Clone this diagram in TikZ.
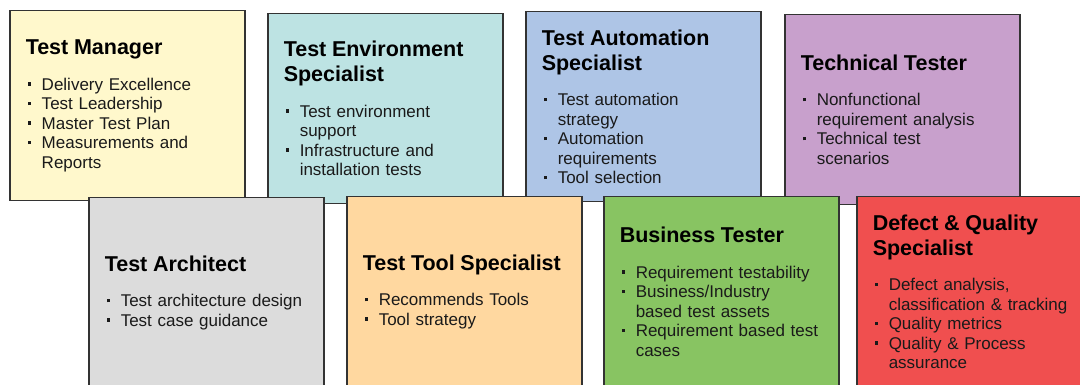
\documentclass[tikz,border=0pt]{standalone}
\usepackage{fontspec}
\setmainfont{Liberation Sans}
\setlength\parindent{0pt}

\definecolor{lineg}{HTML}{333333}
\definecolor{txtg}{HTML}{1A1A1A}
\definecolor{cyellow}{HTML}{FFF8CC}
\definecolor{cteal}{HTML}{BDE3E3}
\definecolor{cblue}{HTML}{AEC5E6}
\definecolor{cviolet}{HTML}{C8A0CC}
\definecolor{cgray}{HTML}{DCDCDC}
\definecolor{corange}{HTML}{FFD8A0}
\definecolor{cgreen}{HTML}{88C462}
\definecolor{cred}{HTML}{F04F4F}

\newcommand\bodyfont{\fontsize{17}{19.5}\selectfont\color{txtg}}
\newcommand\titlefont{\fontsize{21.5}{25}\selectfont\bfseries\color{black}}
% title of a role box, then a small gap before the list
\newcommand\roletitle[1]{{\titlefont #1\par}\vspace{16pt}}
% one bullet of the list, later lines hang under the text
\newcommand\roleitem{\par\hangindent=16pt\hangafter=1\noindent
  \makebox[16pt][l]{\hspace{2pt}\rule[4.5pt]{3.5pt}{3.5pt}}}

\begin{document}
\begin{tikzpicture}[x=1pt, y=-1pt,
    role/.style={draw=lineg, line width=1.5pt, anchor=north west,
      text width=203pt, inner xsep=16pt, inner ysep=0pt,
      minimum height=190pt, align=left, font=\bodyfont}]
  \clip (0, 0) rectangle (1080, 385);

  % upper row
  \node[role, fill=cyellow] (tm) at (9, 10) {%
    \roletitle{Test Manager}
    \roleitem Delivery Excellence
    \roleitem Test Leadership
    \roleitem Master Test Plan
    \roleitem Measurements and\newline Reports\par};
  \node[role, fill=cteal] (env) at (267, 13) {%
    \roletitle{Test Environment\newline Specialist}
    \roleitem Test environment\newline support
    \roleitem Infrastructure and\newline installation tests\par};
  \node[role, fill=cblue] (auto) at (525, 11) {%
    \roletitle{Test Automation\newline Specialist}
    \roleitem Test automation\newline strategy
    \roleitem Automation\newline requirements
    \roleitem Tool selection\par};
  \node[role, fill=cviolet] (tech) at (784, 14) {%
    \roletitle{Technical Tester}
    \roleitem Nonfunctional\newline requirement analysis
    \roleitem Technical test\newline scenarios\par};

  % lower row, drawn over the upper one
  \node[role, fill=cgray] (arch) at (88, 197) {%
    \roletitle{Test Architect}
    \roleitem Test architecture design
    \roleitem Test case guidance\par};
  \node[role, fill=corange] (tool) at (346, 196) {%
    \roletitle{Test Tool Specialist}
    \roleitem Recommends Tools
    \roleitem Tool strategy\par};
  \node[role, fill=cgreen] (biz) at (603, 196) {%
    \roletitle{Business Tester}
    \roleitem Requirement testability
    \roleitem Business/Industry\newline based test assets
    \roleitem Requirement based test\newline cases\par};
  \node[role, fill=cred] (dq) at (856, 196) {%
    \roletitle{Defect \& Quality\newline Specialist}
    \roleitem Defect analysis,\newline classification \& tracking
    \roleitem Quality metrics
    \roleitem Quality \& Process\newline assurance\par};
\end{tikzpicture}
\end{document}
